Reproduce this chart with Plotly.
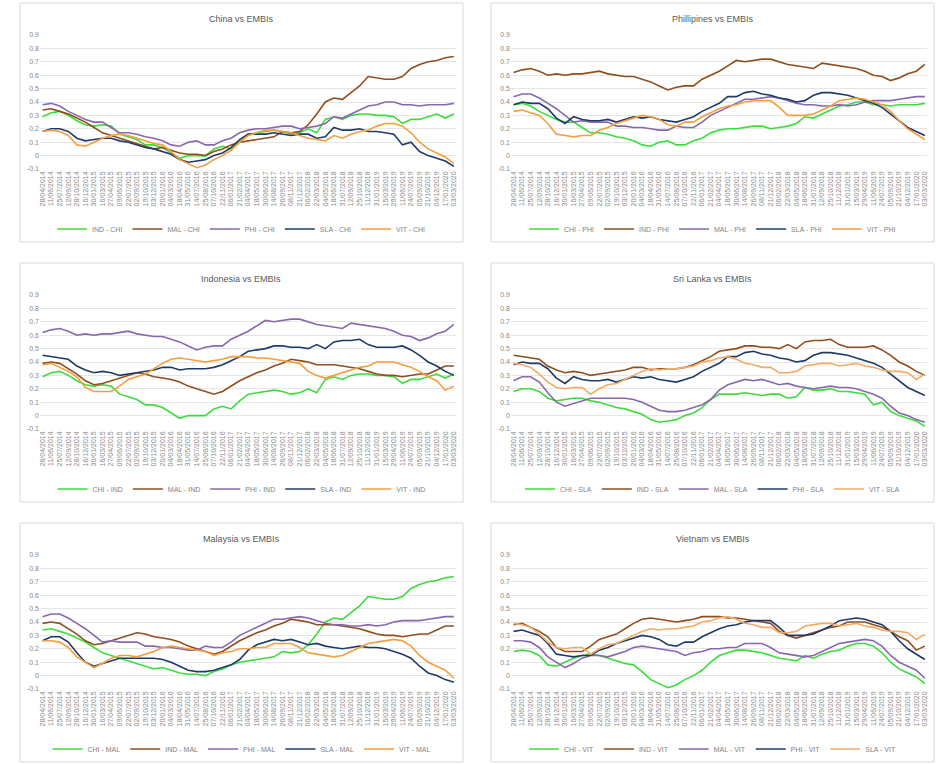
import plotly.graph_objects as go

# ---------------- data ----------------
dates = ["28/04/2014", "11/06/2014", "25/07/2014", "12/09/2014", "28/10/2014", "16/12/2014",
         "30/01/2015", "16/03/2015", "27/04/2015", "09/06/2015", "22/07/2015", "02/09/2015",
         "19/10/2015", "03/12/2015", "20/01/2016", "04/03/2016", "18/04/2016", "31/05/2016",
         "14/07/2016", "25/08/2016", "07/10/2016", "22/11/2016", "06/01/2017", "21/02/2017",
         "04/04/2017", "18/05/2017", "30/06/2017", "14/08/2017", "26/09/2017", "08/11/2017",
         "21/12/2017", "06/02/2018", "22/03/2018", "04/05/2018", "18/06/2018", "31/07/2018",
         "12/09/2018", "25/10/2018", "11/12/2018", "31/01/2019", "15/03/2019", "29/04/2019",
         "11/06/2019", "24/07/2019", "05/09/2019", "21/10/2019", "04/12/2019", "17/01/2020",
         "03/03/2020"]

CHI_IND = [0.29, 0.32, 0.33, 0.30, 0.26, 0.23, 0.22, 0.23, 0.22, 0.16, 0.14, 0.12, 0.08, 0.08, 0.06, 0.02, -0.02,
           0.00, 0.00, 0.00, 0.05, 0.07, 0.05, 0.11, 0.16, 0.17, 0.18, 0.19, 0.18, 0.16, 0.17, 0.20, 0.17, 0.27,
           0.29, 0.27, 0.30, 0.31, 0.31, 0.30, 0.30, 0.29, 0.24, 0.27, 0.27, 0.29, 0.31, 0.28, 0.31]
CHI_MAL = [0.34, 0.35, 0.33, 0.31, 0.28, 0.25, 0.21, 0.17, 0.15, 0.13, 0.11, 0.09, 0.07, 0.05, 0.06, 0.04, 0.02,
           0.01, 0.01, 0.00, 0.03, 0.05, 0.08, 0.10, 0.11, 0.12, 0.13, 0.14, 0.18, 0.17, 0.18, 0.23, 0.31, 0.40,
           0.43, 0.42, 0.47, 0.52, 0.59, 0.58, 0.57, 0.57, 0.59, 0.65, 0.68, 0.70, 0.71, 0.73, 0.74]
CHI_PHI = [0.38, 0.39, 0.37, 0.33, 0.30, 0.27, 0.25, 0.25, 0.21, 0.17, 0.17, 0.16, 0.14, 0.13, 0.11, 0.08, 0.07,
           0.10, 0.11, 0.08, 0.08, 0.11, 0.13, 0.17, 0.19, 0.20, 0.20, 0.21, 0.22, 0.22, 0.20, 0.21, 0.22, 0.24,
           0.29, 0.28, 0.31, 0.34, 0.37, 0.38, 0.40, 0.40, 0.38, 0.38, 0.37, 0.38, 0.38, 0.38, 0.39]
CHI_SLA = [0.18, 0.20, 0.20, 0.18, 0.13, 0.11, 0.12, 0.13, 0.13, 0.11, 0.10, 0.08, 0.06, 0.05, 0.03, 0.01, -0.03,
           -0.05, -0.04, -0.03, 0.00, 0.02, 0.06, 0.12, 0.16, 0.16, 0.16, 0.17, 0.16, 0.15, 0.16, 0.16, 0.13, 0.14,
           0.21, 0.19, 0.19, 0.20, 0.18, 0.18, 0.17, 0.16, 0.08, 0.10, 0.03, 0.00, -0.02, -0.04, -0.08]
CHI_VIT = [0.18, 0.19, 0.18, 0.15, 0.08, 0.07, 0.10, 0.13, 0.15, 0.16, 0.15, 0.13, 0.11, 0.09, 0.08, 0.03, -0.03,
           -0.06, -0.09, -0.07, -0.03, 0.00, 0.04, 0.10, 0.15, 0.17, 0.19, 0.19, 0.18, 0.17, 0.15, 0.13, 0.12, 0.11,
           0.15, 0.13, 0.16, 0.18, 0.19, 0.22, 0.24, 0.24, 0.22, 0.17, 0.10, 0.05, 0.02, -0.01, -0.06]
IND_MAL = [0.39, 0.40, 0.39, 0.35, 0.31, 0.26, 0.23, 0.24, 0.26, 0.28, 0.30, 0.32, 0.31, 0.29, 0.28, 0.27, 0.25,
           0.22, 0.20, 0.18, 0.16, 0.18, 0.22, 0.26, 0.29, 0.32, 0.34, 0.37, 0.39, 0.42, 0.41, 0.40, 0.38, 0.38,
           0.38, 0.37, 0.36, 0.35, 0.33, 0.31, 0.30, 0.30, 0.29, 0.30, 0.31, 0.31, 0.34, 0.37, 0.37]
IND_PHI = [0.62, 0.64, 0.65, 0.63, 0.60, 0.61, 0.60, 0.61, 0.61, 0.62, 0.63, 0.61, 0.60, 0.59, 0.59, 0.57, 0.55,
           0.52, 0.49, 0.51, 0.52, 0.52, 0.57, 0.60, 0.63, 0.67, 0.71, 0.70, 0.71, 0.72, 0.72, 0.70, 0.68, 0.67,
           0.66, 0.65, 0.69, 0.68, 0.67, 0.66, 0.65, 0.63, 0.60, 0.59, 0.56, 0.58, 0.61, 0.63, 0.68]
IND_SLA = [0.45, 0.44, 0.43, 0.42, 0.37, 0.34, 0.32, 0.33, 0.32, 0.30, 0.31, 0.32, 0.33, 0.34, 0.36, 0.36, 0.34,
           0.35, 0.35, 0.35, 0.36, 0.38, 0.41, 0.44, 0.48, 0.49, 0.50, 0.52, 0.52, 0.51, 0.51, 0.50, 0.53, 0.50,
           0.55, 0.56, 0.56, 0.57, 0.53, 0.51, 0.51, 0.51, 0.52, 0.49, 0.45, 0.40, 0.37, 0.33, 0.30]
IND_VIT = [0.38, 0.39, 0.36, 0.33, 0.29, 0.21, 0.18, 0.18, 0.18, 0.22, 0.27, 0.29, 0.31, 0.35, 0.39, 0.42, 0.43,
           0.42, 0.41, 0.40, 0.41, 0.42, 0.44, 0.44, 0.44, 0.43, 0.43, 0.42, 0.41, 0.40, 0.39, 0.33, 0.30, 0.28,
           0.30, 0.32, 0.34, 0.36, 0.37, 0.40, 0.40, 0.40, 0.38, 0.36, 0.33, 0.29, 0.26, 0.19, 0.22]
MAL_PHI = [0.44, 0.46, 0.46, 0.43, 0.39, 0.35, 0.30, 0.25, 0.26, 0.25, 0.25, 0.25, 0.22, 0.22, 0.21, 0.21, 0.20,
           0.19, 0.19, 0.22, 0.21, 0.21, 0.25, 0.30, 0.33, 0.36, 0.39, 0.42, 0.42, 0.43, 0.44, 0.43, 0.41, 0.39,
           0.38, 0.38, 0.37, 0.37, 0.38, 0.37, 0.38, 0.40, 0.41, 0.41, 0.41, 0.42, 0.43, 0.44, 0.44]
MAL_SLA = [0.26, 0.29, 0.29, 0.25, 0.17, 0.10, 0.07, 0.09, 0.11, 0.13, 0.13, 0.13, 0.13, 0.13, 0.12, 0.10, 0.07,
           0.04, 0.03, 0.03, 0.04, 0.06, 0.08, 0.12, 0.19, 0.23, 0.25, 0.27, 0.26, 0.27, 0.25, 0.23, 0.24, 0.22,
           0.21, 0.20, 0.21, 0.22, 0.21, 0.21, 0.20, 0.18, 0.16, 0.13, 0.07, 0.02, 0.00, -0.03, -0.05]
MAL_VIT = [0.26, 0.26, 0.25, 0.21, 0.14, 0.10, 0.06, 0.09, 0.13, 0.15, 0.15, 0.14, 0.16, 0.18, 0.21, 0.22, 0.21,
           0.20, 0.19, 0.18, 0.15, 0.17, 0.18, 0.20, 0.20, 0.21, 0.21, 0.24, 0.24, 0.24, 0.21, 0.17, 0.16, 0.15,
           0.14, 0.15, 0.18, 0.21, 0.24, 0.25, 0.26, 0.27, 0.26, 0.22, 0.15, 0.10, 0.07, 0.04, -0.02]
PHI_SLA = [0.38, 0.40, 0.39, 0.39, 0.35, 0.28, 0.24, 0.29, 0.27, 0.26, 0.26, 0.27, 0.25, 0.27, 0.29, 0.28, 0.29,
           0.27, 0.26, 0.25, 0.27, 0.29, 0.33, 0.36, 0.39, 0.44, 0.44, 0.47, 0.48, 0.46, 0.45, 0.43, 0.42, 0.40,
           0.41, 0.45, 0.47, 0.47, 0.46, 0.45, 0.43, 0.41, 0.39, 0.36, 0.31, 0.26, 0.21, 0.18, 0.15]
PHI_VIT = [0.33, 0.34, 0.32, 0.30, 0.24, 0.16, 0.15, 0.14, 0.15, 0.15, 0.19, 0.21, 0.24, 0.26, 0.28, 0.30, 0.29,
           0.27, 0.23, 0.22, 0.25, 0.25, 0.29, 0.32, 0.35, 0.37, 0.38, 0.40, 0.41, 0.41, 0.41, 0.36, 0.30, 0.30,
           0.30, 0.31, 0.34, 0.37, 0.41, 0.42, 0.43, 0.42, 0.40, 0.38, 0.33, 0.26, 0.20, 0.16, 0.12]
SLA_VIT = [0.39, 0.38, 0.36, 0.31, 0.25, 0.21, 0.20, 0.21, 0.21, 0.16, 0.20, 0.23, 0.24, 0.27, 0.30, 0.33, 0.35,
           0.34, 0.35, 0.35, 0.36, 0.37, 0.40, 0.41, 0.43, 0.44, 0.42, 0.39, 0.38, 0.36, 0.36, 0.32, 0.32, 0.33,
           0.37, 0.38, 0.39, 0.39, 0.37, 0.38, 0.39, 0.37, 0.36, 0.34, 0.33, 0.33, 0.32, 0.27, 0.31]

y_ticks = [-0.1, 0.0, 0.1, 0.2, 0.3, 0.4, 0.5, 0.6, 0.7, 0.8, 0.9]
y_labels = ["-0.1", "0", "0.1", "0.2", "0.3", "0.4", "0.5", "0.6", "0.7", "0.8", "0.9"]

GREEN = "#3cdc3c"
BROWN = "#8f4e1e"
PURPLE = "#8768ae"
NAVY = "#1f3a68"
ORANGE = "#f59e3e"
PEACH = "#f4aa66"

panels = [
    ("China vs EMBIs", [("IND - CHI", CHI_IND, GREEN), ("MAL - CHI", CHI_MAL, BROWN),
                        ("PHI - CHI", CHI_PHI, PURPLE), ("SLA - CHI", CHI_SLA, NAVY),
                        ("VIT - CHI", CHI_VIT, ORANGE)]),
    ("Phillipines vs EMBIs", [("CHI - PHI", CHI_PHI, GREEN), ("IND - PHI", IND_PHI, BROWN),
                              ("MAL - PHI", MAL_PHI, PURPLE), ("SLA - PHI", PHI_SLA, NAVY),
                              ("VIT - PHI", PHI_VIT, ORANGE)]),
    ("Indonesia vs EMBIs", [("CHI - IND", CHI_IND, GREEN), ("MAL - IND", IND_MAL, BROWN),
                            ("PHI - IND", IND_PHI, PURPLE), ("SLA - IND", IND_SLA, NAVY),
                            ("VIT - IND", IND_VIT, ORANGE)]),
    ("Sri Lanka vs EMBIs", [("CHI - SLA", CHI_SLA, GREEN), ("IND - SLA", IND_SLA, BROWN),
                            ("MAL - SLA", MAL_SLA, PURPLE), ("PHI - SLA", PHI_SLA, NAVY),
                            ("VIT - SLA", SLA_VIT, PEACH)]),
    ("Malaysia vs EMBIs", [("CHI - MAL", CHI_MAL, GREEN), ("IND - MAL", IND_MAL, BROWN),
                           ("PHI - MAL", MAL_PHI, PURPLE), ("SLA - MAL", MAL_SLA, NAVY),
                           ("VIT - MAL", MAL_VIT, ORANGE)]),
    ("Vietnam vs EMBIs", [("CHI - VIT", CHI_VIT, GREEN), ("IND - VIT", IND_VIT, BROWN),
                          ("MAL - VIT", MAL_VIT, PURPLE), ("PHI - VIT", PHI_VIT, NAVY),
                          ("SLA - VIT", SLA_VIT, PEACH)]),
]

# ---------------- layout geometry (pixels) ----------------
W, H = 945, 764
FRAME_X = [20, 491]
FRAME_Y = [3, 263, 523]
FRAME_W, FRAME_H = 443, 239

def px(x):
    return x / W

def py(y):
    return 1 - y / H

FONT = "Liberation Sans, Arial, sans-serif"

fig = go.Figure()
layout = dict(
    width=W, height=H,
    margin=dict(l=0, r=0, t=0, b=0),
    paper_bgcolor="white", plot_bgcolor="white",
    font=dict(family=FONT, color="#7f7f7f"),
    showlegend=True,
    shapes=[], annotations=[],
)

for k, (title, series) in enumerate(panels):
    r, c = divmod(k, 2)
    fx, fy = FRAME_X[c], FRAME_Y[r]
    suffix = "" if k == 0 else str(k + 1)
    lname = "legend" + suffix
    for name, vals, col in series:
        fig.add_trace(go.Scatter(
            x=dates, y=vals, mode="lines", name=name,
            line=dict(color=col, width=1.6),
            xaxis="x" + suffix, yaxis="y" + suffix, legend=lname,
            hoverinfo="skip",
        ))
    layout["xaxis" + suffix] = dict(
        domain=[px(fx + 20), px(fx + 436)], anchor="y" + suffix,
        type="category", range=[-0.3, 48.25],
        tickmode="array", tickvals=dates, ticktext=dates,
        tickangle=-90, tickfont=dict(size=7, color="#8a8a8a", family=FONT),
        showgrid=False, showline=False, zeroline=False, ticks="",
        automargin=False, fixedrange=True,
    )
    layout["yaxis" + suffix] = dict(
        domain=[py(fy + 166), py(fy + 32)], anchor="x" + suffix,
        range=[-0.1, 0.9], tickmode="array", tickvals=y_ticks, ticktext=y_labels,
        tickfont=dict(size=7, color="#8a8a8a", family=FONT),
        showgrid=True, gridcolor="#e6e6e6", gridwidth=1,
        zeroline=False, showline=False, ticks="", automargin=False, fixedrange=True,
    )
    layout[lname] = dict(
        orientation="h", x=px(fx + FRAME_W / 2), xanchor="center",
        y=py(fy + 226), yanchor="middle",
        font=dict(size=7, color="#7f7f7f", family=FONT),
        bgcolor="rgba(0,0,0,0)", itemwidth=30, tracegroupgap=0,
    )
    layout["shapes"].append(dict(
        type="rect", xref="paper", yref="paper",
        x0=px(fx), x1=px(fx + FRAME_W), y0=py(fy + FRAME_H), y1=py(fy),
        line=dict(color="#d9d9d9", width=1), fillcolor="rgba(0,0,0,0)", layer="below",
    ))
    layout["annotations"].append(dict(
        text=title, xref="paper", yref="paper",
        x=px(fx + FRAME_W / 2), y=py(fy + 16), xanchor="center", yanchor="middle",
        showarrow=False, font=dict(size=9, color="#595959", family=FONT),
    ))

fig.update_layout(**layout)
fig.write_html(
    "out.html",
    config={"displayModeBar": False},
    post_script="document.body.style.margin='0';document.body.style.overflow='hidden';",
)
